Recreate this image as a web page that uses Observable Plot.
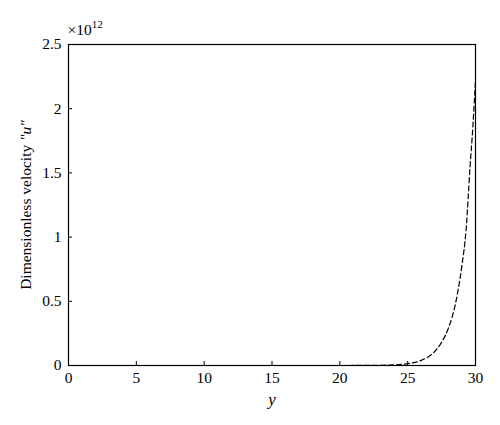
<!DOCTYPE html>
<html>
<head>
<meta charset="utf-8">
<script src="https://cdn.jsdelivr.net/npm/d3@7"></script>
<script src="https://cdn.jsdelivr.net/npm/@observablehq/plot@0.6"></script>
<style>
  html, body { margin: 0; padding: 0; background: white; }
</style>
</head>
<body>
<div id="chart"></div>
<script>
// Data (velocity in units of 1e12)
const yPos = [0, 5, 10, 15, 20, 22, 23, 24, 25, 26, 27, 27.5, 28, 28.5, 29, 29.3, 29.6, 29.8, 30];
const velocity = [0, 0, 0, 0, 0.0001, 0.0008, 0.002, 0.005, 0.014, 0.04, 0.11, 0.18, 0.29, 0.47, 0.78, 1.05, 1.55, 1.85, 2.22];
const xTicks = [0, 5, 10, 15, 20, 25, 30];
const yTicks = [0, 0.5, 1, 1.5, 2, 2.5];
const yLabel = "Dimensionless velocity \"u\"";
const xLabel = "y";
const exponentBase = "×10";
const exponent = "12";

const data = yPos.map((x, i) => ({x, v: velocity[i]}));

const chart = Plot.plot({
  width: 500,
  height: 425,
  marginLeft: 68,
  marginRight: 25,
  marginTop: 44,
  marginBottom: 60,
  style: {fontFamily: "'Liberation Serif', serif", fontSize: "15.5px", background: "white", color: "black", overflow: "visible"},
  x: {domain: [0, 30]},
  y: {domain: [0, 2.5]},
  marks: [
    Plot.axisX({ticks: xTicks, tickSize: -4, tickFormat: () => "", label: null}),
    Plot.axisY({ticks: yTicks, tickSize: -4, tickFormat: () => "", label: null}),
    Plot.axisX({ticks: xTicks, tickSize: 0, tickPadding: 6, tickFormat: d => String(d), label: xLabel, labelAnchor: "center", labelArrow: "none", labelOffset: 39}),
    Plot.axisY({ticks: yTicks, tickSize: 0, tickPadding: 7, tickFormat: d => String(d), label: yLabel, labelAnchor: "center", labelArrow: "none", labelOffset: 49}),
    Plot.line(data, {x: "x", y: "v", stroke: "black", strokeWidth: 1.2, strokeDasharray: "5,3", curve: "monotone-x"}),
    Plot.frame({stroke: "black", strokeWidth: 1.2}),
    Plot.text([exponentBase], {frameAnchor: "top-left", dy: -10, dx: -1, textAnchor: "start", lineAnchor: "bottom", fontSize: 15.5})
  ]
});

document.getElementById("chart").appendChild(chart);

const svg = d3.select(chart);
// italic "u" in the y label
const yl = svg.select('g[aria-label="y-axis label"] text');
if (!yl.empty()) {
  yl.text(null);
  yl.append("tspan").text("Dimensionless velocity ");
  yl.append("tspan").attr("font-style", "italic").text("\"u\"");
}
// italic x label
svg.select('g[aria-label="x-axis label"] text').attr("font-style", "italic").attr("font-size", 17);
// superscript exponent
const ex = svg.select('g[aria-label="text"] text');
if (!ex.empty()) {
  ex.append("tspan").attr("font-size", 11).attr("dy", "-0.55em").text(exponent);
}
</script>
</body>
</html>
